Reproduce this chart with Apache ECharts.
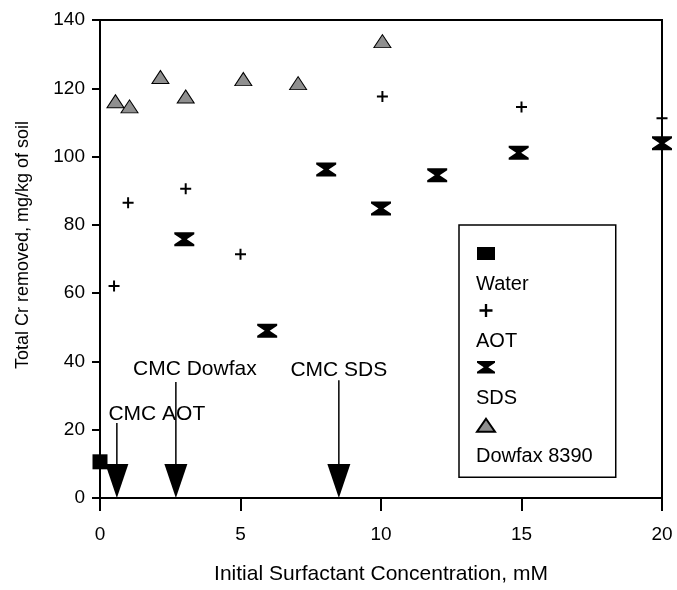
<!DOCTYPE html>
<html>
<head>
<meta charset="utf-8">
<script src="https://cdn.jsdelivr.net/npm/echarts@6/dist/echarts.min.js"></script>
<style>
html,body{margin:0;padding:0;background:#fff;}
#chart{width:677px;height:590px;}
</style>
</head>
<body>
<div id="chart"></div>
<script>
// ---- data ----
const seriesNames = ['Water', 'AOT', 'SDS', 'Dowfax 8390'];
const waterX = [0];
const waterY = [10.6];
const aotX = [0.5, 1.0, 3.05, 5.0, 10.05, 15.0, 20];
const aotY = [62.1, 86.5, 90.6, 71.4, 117.6, 114.5, 111.2];
const sdsX = [3.0, 5.95, 8.05, 10.0, 12.0, 14.9, 20];
const sdsY = [75.8, 49.0, 96.2, 84.8, 94.5, 101.1, 103.9];
const dowX = [0.55, 1.05, 2.15, 3.05, 5.1, 7.05, 10.05];
const dowY = [116.2, 114.7, 123.3, 117.6, 122.7, 121.5, 133.8];
const cmcLabels = ['CMC AOT', 'CMC Dowfax', 'CMC SDS'];
const cmcX = [0.6, 2.7, 8.5];
const cmcTop = [22, 34, 34.5];
const xTicks = [0, 5, 10, 15, 20];
const yTicks = [0, 20, 40, 60, 80, 100, 120, 140];

// ---- styles ----
const FONT = '"Liberation Sans", Arial, Helvetica, sans-serif';
const cmcLabelOffset = [[40, -9], [19, -13], [0, -10]];
const plusPath = 'path://M4.1,0 H5.9 V4.1 H10 V5.9 H5.9 V10 H4.1 V5.9 H0 V4.1 H4.1 Z';
const hourglassPath = 'path://M0,0 H20 V2 L12.5,7 L20,12 V14 H0 V12 L7.5,7 L0,2 Z';

const zip = (xs, ys) => xs.map((x, i) => [x, ys[i]]);

const chart = echarts.init(document.getElementById('chart'), null, {renderer: 'canvas'});
chart.setOption({
  animation: false,
  backgroundColor: '#fff',
  grid: {left: 100, right: 15, top: 20, bottom: 90, show: true, borderColor: '#000', borderWidth: 2, containLabel: false},
  xAxis: {
    type: 'value', min: xTicks[0], max: xTicks[xTicks.length - 1], interval: 5,
    name: 'Initial Surfactant Concentration, mM', nameLocation: 'middle', nameGap: 66,
    nameTextStyle: {fontFamily: FONT, fontSize: 21, color: '#000'},
    axisLine: {show: true, lineStyle: {color: '#000', width: 2}},
    axisTick: {show: true, inside: false, length: 13, lineStyle: {color: '#000', width: 2}},
    axisLabel: {show: true, margin: 27, fontFamily: FONT, fontSize: 19, color: '#000'},
    splitLine: {show: false}
  },
  yAxis: {
    type: 'value', min: yTicks[0], max: yTicks[yTicks.length - 1], interval: 20,
    name: 'Total Cr removed, mg/kg of soil', nameLocation: 'middle', nameGap: 68,
    nameTextStyle: {fontFamily: FONT, fontSize: 18, color: '#000', padding: [0, 0, 0, 28]},
    axisLine: {show: true, lineStyle: {color: '#000', width: 2}},
    axisTick: {show: true, inside: false, length: 8, lineStyle: {color: '#000', width: 2}},
    axisLabel: {show: true, margin: 15, fontFamily: FONT, fontSize: 19, color: '#000'},
    splitLine: {show: false}
  },
  legend: {
    show: true, orient: 'vertical', left: 459, top: 225,
    data: seriesNames, selectedMode: false,
    itemWidth: 18, itemHeight: 13, itemGap: 9.5,
    padding: [22, 23, 11, 17],
    backgroundColor: '#fff', borderColor: '#000', borderWidth: 1.5, borderRadius: 0,
    formatter: '{t|{name}}',
    textStyle: {
      padding: [62, 0, 0, -24],
      rich: {t: {fontFamily: FONT, fontSize: 20, color: '#000'}}
    }
  },
  series: [
    {name: seriesNames[0], type: 'scatter', data: zip(waterX, waterY), symbol: 'rect', symbolSize: 15,
     itemStyle: {color: '#000', opacity: 1}, z: 5},
    {name: seriesNames[1], type: 'scatter', data: zip(aotX, aotY), symbol: plusPath, symbolSize: 11,
     symbolKeepAspect: true, itemStyle: {color: '#000', opacity: 1}, z: 5},
    {name: seriesNames[2], type: 'scatter', data: zip(sdsX, sdsY), symbol: hourglassPath, symbolSize: [20, 14],
     itemStyle: {color: '#000', opacity: 1}, z: 5},
    {name: seriesNames[3], type: 'scatter', data: zip(dowX, dowY), symbol: 'triangle', symbolSize: [17, 13],
     itemStyle: {color: '#8f8f8f', borderColor: '#000', borderWidth: 1, opacity: 1}, z: 5},
    {
      name: 'CMC', type: 'custom', z: 4,
      data: cmcX.map((x, i) => [x, cmcTop[i], i]),
      renderItem: function (params, api) {
        const i = api.value(2);
        const pTop = api.coord([api.value(0), api.value(1)]);
        const pBot = api.coord([api.value(0), 0]);
        const headH = 34, headW = 23;
        const off = cmcLabelOffset[i];
        return {
          type: 'group',
          children: [
            {type: 'line', shape: {x1: pTop[0], y1: pTop[1], x2: pBot[0], y2: pBot[1] - headH + 2},
             style: {stroke: '#000', lineWidth: 1.5}},
            {type: 'polygon', shape: {points: [[pBot[0] - headW / 2, pBot[1] - headH], [pBot[0] + headW / 2, pBot[1] - headH], [pBot[0], pBot[1]]]},
             style: {fill: '#000'}},
            {type: 'text', style: {text: cmcLabels[i], x: pTop[0] + off[0], y: pTop[1] + off[1],
             align: 'center', verticalAlign: 'middle', fontFamily: FONT, fontSize: 21, fill: '#000'}}
          ]
        };
      }
    }
  ]
});
</script>
</body>
</html>
